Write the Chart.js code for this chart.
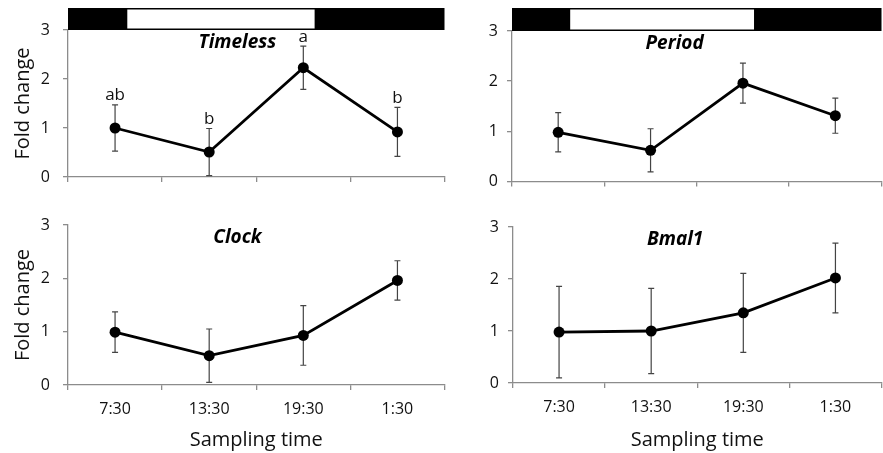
<!DOCTYPE html>
<html>
<head>
<meta charset="utf-8">
<script src="https://cdn.jsdelivr.net/npm/chart.js@4.4.1/dist/chart.umd.min.js"></script>
<style>
    html, body { margin: 0; padding: 0; background: #fff; overflow: hidden; }
    body { width: 883px; height: 453px; position: relative; }
    .panel { position: absolute; }
</style>
</head>
<body>
<div class="panel" style="left:0;top:0;"><canvas id="timelessChart" width="450" height="200"></canvas></div>
<div class="panel" style="left:440px;top:0;"><canvas id="periodChart" width="447" height="200"></canvas></div>
<div class="panel" style="left:0;top:200px;"><canvas id="clockChart" width="450" height="253"></canvas></div>
<div class="panel" style="left:440px;top:200px;"><canvas id="bmal1Chart" width="447" height="253"></canvas></div>

<script>
// Data
const categories = ['7:30', '13:30', '19:30', '1:30'];
const yTicks = [0, 1, 2, 3];

const timelessMean = [1.00, 0.51, 2.23, 0.92];
const timelessErr = [0.47, 0.48, 0.44, 0.50];
const timelessLetters = ['ab', 'b', 'a', 'b'];

const periodMean = [0.98, 0.62, 1.96, 1.31];
const periodErr = [0.39, 0.43, 0.40, 0.35];

const clockMean = [0.99, 0.55, 0.93, 1.96];
const clockErr = [0.38, 0.50, 0.56, 0.37];

const bmal1Mean = [0.98, 1.00, 1.35, 2.02];
const bmal1Err = [0.88, 0.82, 0.76, 0.67];

// light phase (in category units) for the light/dark bar
const lightPhase = [0.13, 2.12];

const FONT = "'Open Sans', 'Noto Sans', sans-serif";
const AXIS_GRAY = '#8c8c8c';
const TEXT = '#111';

// Error bars, drawn under the points
const errorBarPlugin = {
    id: 'errorBars',
    beforeDatasetsDraw(chart) {
        const err = chart.options.plugins.errorBars.values;
        const meta = chart.getDatasetMeta(0);
        const y = chart.scales.y;
        const ctx = chart.ctx;
        ctx.save();
        ctx.strokeStyle = '#444';
        ctx.lineWidth = 1.2;
        meta.data.forEach((pt, i) => {
            const v = chart.data.datasets[0].data[i];
            const top = y.getPixelForValue(v + err[i]);
            const bot = y.getPixelForValue(Math.max(0, v - err[i]));
            ctx.beginPath();
            ctx.moveTo(pt.x, top); ctx.lineTo(pt.x, bot);
            ctx.moveTo(pt.x - 3, top); ctx.lineTo(pt.x + 3, top);
            ctx.moveTo(pt.x - 3, bot); ctx.lineTo(pt.x + 3, bot);
            ctx.stroke();
        });
        ctx.restore();
    }
};

// Panel title, significance letters and light/dark bar
const decorPlugin = {
    id: 'decor',
    afterDraw(chart) {
        const o = chart.options.plugins.decor;
        const ctx = chart.ctx;
        const area = chart.chartArea;
        const x = chart.scales.x;
        const y = chart.scales.y;
        ctx.save();
        // gene name
        ctx.fillStyle = '#000';
        ctx.font = "italic bold 19px " + FONT;
        ctx.textAlign = 'center';
        ctx.textBaseline = 'middle';
        ctx.fillText(o.title, area.left + area.width * o.titleX, area.top + 13);

        // letters above error bars
        if (o.letters) {
            const err = chart.options.plugins.errorBars.values;
            const data = chart.data.datasets[0].data;
            ctx.font = "17px " + FONT;
            ctx.fillStyle = TEXT;
            ctx.textBaseline = 'bottom';
            o.letters.forEach((l, i) => {
                const py = y.getPixelForValue(data[i] + err[i]);
                ctx.fillText(l, x.getPixelForValue(i), py - 1);
            });
        }

        // light / dark bar
        if (o.lightBar) {
            const top = 8;
            const h = area.top - top;
            const x0 = x.getPixelForValue(lightPhase[0]);
            const x1 = x.getPixelForValue(lightPhase[1]);
            ctx.fillStyle = '#000';
            ctx.fillRect(area.left, top, area.right - area.left, h);
            ctx.fillStyle = '#fff';
            ctx.fillRect(x0, top + 1.5, x1 - x0, h - 3);
        }
        ctx.restore();
    }
};

function makePanel(id, opts) {
    const canvas = document.getElementById(id);
    const ctx = canvas.getContext('2d');
    new Chart(ctx, {
        type: 'line',
        data: {
            labels: categories,
            datasets: [{
                data: opts.mean,
                borderColor: '#000',
                borderWidth: 2.8,
                backgroundColor: '#000',
                pointRadius: 5.5,
                pointBackgroundColor: '#000',
                pointBorderWidth: 0,
                tension: 0,
                clip: false
            }]
        },
        options: {
            responsive: false,
            animation: false,
            layout: {
                padding: { top: opts.padTop, right: 0, bottom: 0, left: 0 }
            },
            plugins: {
                legend: { display: false },
                tooltip: { enabled: false },
                errorBars: { values: opts.err },
                decor: {
                    title: opts.title,
                    titleX: opts.titleX,
                    letters: opts.letters,
                    lightBar: opts.lightBar
                }
            },
            scales: {
                x: {
                    type: 'category',
                    offset: true,
                    border: { color: AXIS_GRAY, width: 1.3 },
                    grid: {
                        offset: true,
                        drawOnChartArea: false,
                        drawTicks: true,
                        tickLength: 5,
                        color: AXIS_GRAY,
                        lineWidth: 1.3
                    },
                    ticks: {
                        display: opts.showX,
                        padding: 10,
                        color: TEXT,
                        font: { size: 16, family: FONT }
                    },
                    title: {
                        display: opts.showX,
                        text: 'Sampling time',
                        color: TEXT,
                        padding: { top: 4, bottom: 1 },
                        font: { size: 20, family: FONT }
                    },
                    afterFit: function(scale) {
                        scale.height = opts.xHeight;
                    }
                },
                y: {
                    min: 0,
                    max: 3,
                    afterBuildTicks: function(scale) {
                        scale.ticks = yTicks.map(v => ({ value: v }));
                    },
                    border: { color: AXIS_GRAY, width: 1.3 },
                    grid: {
                        drawOnChartArea: false,
                        drawTicks: true,
                        tickLength: 5,
                        color: AXIS_GRAY,
                        lineWidth: 1.3
                    },
                    ticks: {
                        padding: opts.yPad,
                        color: TEXT,
                        font: { size: 16, family: FONT }
                    },
                    title: {
                        display: opts.showY,
                        text: 'Fold change',
                        color: TEXT,
                        padding: { top: 11, bottom: 0 },
                        font: { size: 20, family: FONT }
                    },
                    afterFit: function(scale) {
                        scale.width = opts.yWidth;
                    }
                }
            }
        },
        plugins: [errorBarPlugin, decorPlugin]
    });
}

makePanel('timelessChart', {
    mean: timelessMean, err: timelessErr, title: 'Timeless', titleX: 0.45,
    letters: timelessLetters, lightBar: true, showX: false, showY: true,
    padTop: 30, xHeight: 23, yWidth: 68, yPad: 13
});
makePanel('periodChart', {
    mean: periodMean, err: periodErr, title: 'Period', titleX: 0.44,
    letters: null, lightBar: true, showX: false, showY: false,
    padTop: 31, xHeight: 17, yWidth: 72, yPad: 9
});
makePanel('clockChart', {
    mean: clockMean, err: clockErr, title: 'Clock', titleX: 0.45,
    letters: null, lightBar: false, showX: true, showY: true,
    padTop: 25, xHeight: 68, yWidth: 68, yPad: 13
});
makePanel('bmal1Chart', {
    mean: bmal1Mean, err: bmal1Err, title: 'Bmal1', titleX: 0.44,
    letters: null, lightBar: false, showX: true, showY: false,
    padTop: 27, xHeight: 70, yWidth: 73, yPad: 9
});
</script>
</body>
</html>
